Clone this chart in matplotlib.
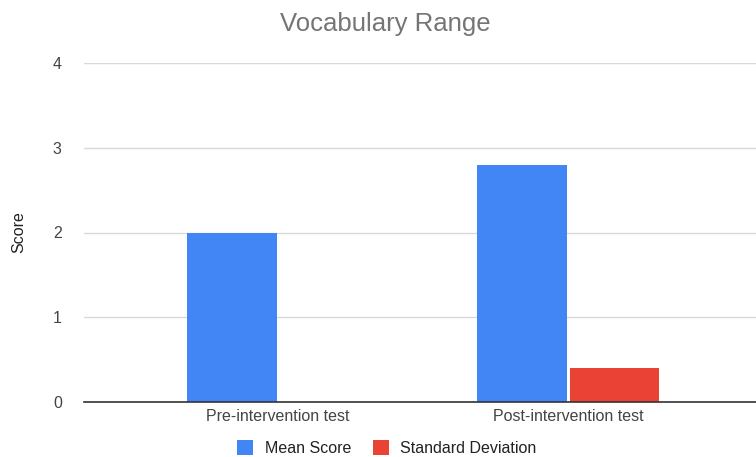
import matplotlib
matplotlib.use("Agg")
import matplotlib.pyplot as plt
import numpy as np

plt.rcParams["font.family"] = ["Liberation Sans", "DejaVu Sans"]

categories = ["Pre-intervention test", "Post-intervention test"]
mean_score = [2.0, 2.8]
std_dev = [0.0, 0.4]
series_names = ["Mean Score", "Standard Deviation"]
yticks = [0, 1, 2, 3, 4]

blue = "#4285F4"
red = "#EA4335"

fig = plt.figure(figsize=(7.56, 4.57), dpi=100)
ax = fig.add_axes([84 / 756, 55 / 457, (756 - 84) / 756, 339 / 457])

x = np.arange(len(categories))
w = 0.31
ax.bar(x - w / 2 - 0.005, mean_score, width=w, color=blue, label=series_names[0], zorder=3)
ax.bar(x + w / 2 + 0.005, std_dev, width=w, color=red, label=series_names[1], zorder=3)

ax.set_xlim(-0.669, 1.648)
ax.set_ylim(0, 4)
ax.set_yticks(yticks)
ax.set_xticks(x)
ax.set_xticklabels(categories)
ax.yaxis.grid(True, color="#d9d9d9", linewidth=1, zorder=0)
ax.tick_params(axis="both", length=0, labelsize=11.5, labelcolor="#444444")
ax.tick_params(axis="x", pad=5)
ax.tick_params(axis="y", pad=16)
for s in ["top", "right", "left"]:
    ax.spines[s].set_visible(False)
ax.spines["bottom"].set_color("#333333")
ax.spines["bottom"].set_zorder(4)
ax.spines["bottom"].set_linewidth(1.2)

ax.set_ylabel("Score", fontsize=11.5, color="#222222")
ax.yaxis.set_label_coords((26 - 84) / 672, 0.5)
fig.text(385 / 756, 1 - 24 / 457, "Vocabulary Range", ha="center", va="center",
         fontsize=18.5, color="#757575")

fig.legend(loc="center", bbox_to_anchor=(0.512, 0.02), ncol=2, frameon=False,
           fontsize=11.5, handlelength=1.0, handleheight=1.1, columnspacing=1.4,
           handletextpad=0.7, labelcolor="#222222", borderpad=0.1)

fig.savefig("out.png", dpi=100)
